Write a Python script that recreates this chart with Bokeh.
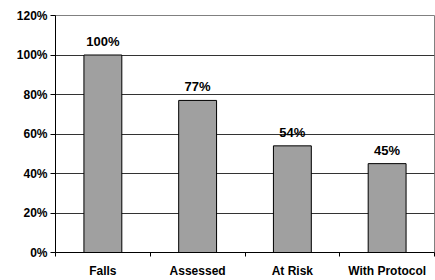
from bokeh.plotting import figure
from bokeh.models import ColumnDataSource, FixedTicker, Range1d, LabelSet
from bokeh.core.properties import value
from bokeh.embed import file_html
from bokeh.resources import INLINE

categories = ["Falls", "Assessed", "At Risk", "With Protocol"]
values = [100, 77, 54, 45]
value_labels = ["100%", "77%", "54%", "45%"]
y_ticks = [0, 20, 40, 60, 80, 100, 120]

xpos = [i + 0.5 for i in range(len(categories))]
src = ColumnDataSource(dict(x=xpos, top=values, lab=value_labels))

p = figure(width=435, height=280, output_backend="svg", toolbar_location=None,
           x_range=Range1d(0, len(categories)), y_range=Range1d(0, 120),
           min_border_left=55, min_border_right=1, min_border_top=15, min_border_bottom=27)

p.vbar(x="x", top="top", width=0.4, source=src, fill_color="#a0a0a0",
       line_color="black", line_width=1)

labels = LabelSet(x="x", y="top", text="lab", source=src, text_align="center",
                  text_baseline="bottom", y_offset=6, text_font=value("Liberation Sans"),
                  text_font_style="bold", text_font_size="13px", text_color="black")
p.add_layout(labels)

# y axis
p.yaxis.ticker = FixedTicker(ticks=y_ticks)
p.yaxis.major_label_overrides = {t: f"{t}%" for t in y_ticks}
p.yaxis.major_tick_in = 0
p.yaxis.major_tick_out = 5
p.yaxis.minor_tick_line_color = None
p.yaxis.axis_line_color = "black"
p.yaxis.major_tick_line_color = "black"
p.yaxis.major_label_text_font = "Liberation Sans"
p.yaxis.major_label_text_font_style = "bold"
p.yaxis.major_label_text_font_size = "12px"
p.yaxis.major_label_text_color = "black"
p.yaxis.major_label_standoff = 3

# x axis
p.xaxis.ticker = FixedTicker(ticks=xpos, minor_ticks=list(range(len(categories) + 1)))
p.xaxis.major_label_overrides = {x: c for x, c in zip(xpos, categories)}
p.xaxis.major_tick_line_color = None
p.xaxis.major_tick_out = 0
p.xaxis.major_tick_in = 0
p.xaxis.minor_tick_in = 0
p.xaxis.minor_tick_out = 4
p.xaxis.minor_tick_line_color = "black"
p.xaxis.axis_line_color = "black"
p.xaxis.major_label_text_font = "Liberation Sans"
p.xaxis.major_label_text_font_style = "bold"
p.xaxis.major_label_text_font_size = "12px"
p.xaxis.major_label_text_color = "black"
p.xaxis.major_label_text_line_height = 0.8
p.xaxis.major_label_standoff = 7

p.xgrid.grid_line_color = None
p.ygrid.ticker = FixedTicker(ticks=y_ticks)
p.ygrid.grid_line_color = "#333333"
p.outline_line_color = "#808080"
p.background_fill_color = "white"
p.border_fill_color = "white"

open("out.html", "w").write(file_html(p, INLINE))
